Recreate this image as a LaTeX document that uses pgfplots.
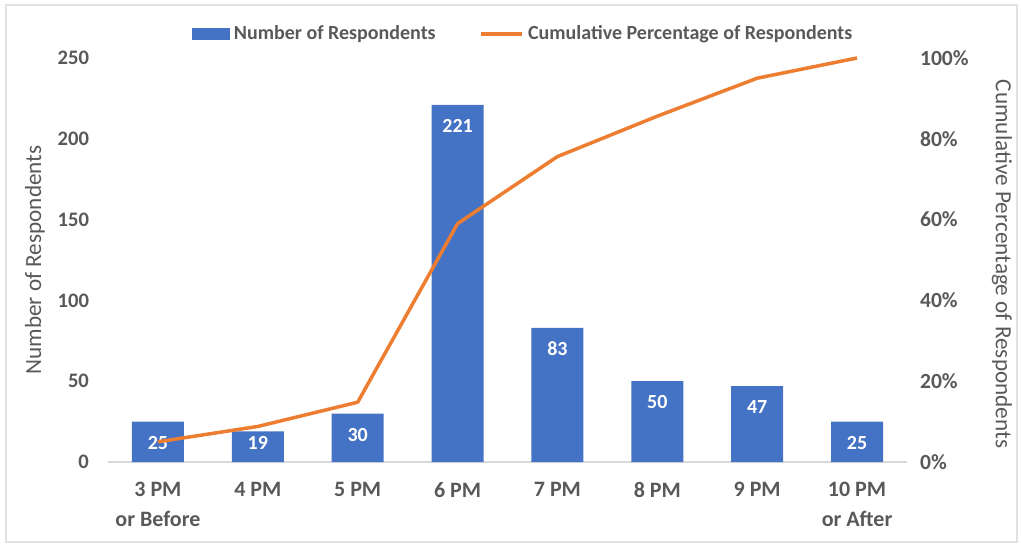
\documentclass[border=0pt]{standalone}
\usepackage{fontspec}
\setmainfont{Carlito}
\usepackage{pgfplots}
\pgfplotsset{compat=1.18}
\pgfplotsset{/pgf/number format/assume math mode=true}
\definecolor{barblue}{HTML}{4472C4}
\definecolor{lineorange}{HTML}{ED7D31}
\definecolor{txtgray}{HTML}{595959}
\definecolor{axgray}{HTML}{D9D9D9}
\begin{document}
\begin{tikzpicture}
\path[use as bounding box] (0pt,0pt) rectangle (510.5pt,273pt);
\draw[axgray!80, line width=0.6pt] (3pt,2pt) rectangle (508.5pt,270.5pt);
\begin{axis}[
  at={(54pt,42pt)}, anchor=south west,
  width=399.5pt, height=202pt, scale only axis,
  xmin=-0.5, xmax=7.5, ymin=0, ymax=250,
  ytick={0,50,100,150,200,250},
  xtick={0,...,7},
  xticklabels={{3 PM\\or Before},{4 PM},{5 PM},{6 PM},{7 PM},{8 PM},{9 PM},{10 PM\\or After}},
  axis x line*=bottom, axis y line*=left,
  y axis line style={draw=none},
  x axis line style={draw=axgray, line width=0.8pt},
  major tick length=0pt,
  yticklabel style={font=\fontsize{10.3}{12}\selectfont\bfseries, text=txtgray, xshift=-6pt},
  xticklabel style={font=\fontsize{11}{15}\selectfont\bfseries, text=txtgray, align=center, yshift=-6.5pt},
  ylabel={Number of Respondents},
  ylabel style={at={(axis description cs:-0.0914,0.5)}, anchor=center, rotate=0, font=\fontsize{11.6}{13}\selectfont, text=txtgray},
  clip=false,
]
\addplot[ybar, bar width=26pt, fill=barblue, draw=none,
  nodes near coords,
  visualization depends on={rawy \as \ry},
  every node near coord/.append style={anchor=center, text=white, font=\fontsize{10}{12}\selectfont\bfseries, yshift={-min(10.5,0.808*\ry-9.5)*1pt}},
] coordinates {(0,25) (1,19) (2,30) (3,221) (4,83) (5,50) (6,47) (7,25)};
\end{axis}
\begin{axis}[
  at={(54pt,42pt)}, anchor=south west,
  width=399.5pt, height=202pt, scale only axis,
  xmin=-0.5, xmax=7.5, ymin=0, ymax=100,
  ytick={0,20,40,60,80,100},
  yticklabel={\pgfmathprintnumber{\tick}\%},
  axis x line=none, axis y line*=right,
  y axis line style={draw=none},
  major tick length=0pt,
  yticklabel style={font=\fontsize{10.8}{12}\selectfont\bfseries, text=txtgray, xshift=3pt},
  ylabel={Cumulative Percentage of Respondents},
  ylabel style={at={(axis description cs:1.1189,0.49)}, anchor=center, rotate=180, font=\fontsize{11.6}{13}\selectfont, text=txtgray},
  legend columns=2,
  legend style={at={(0.521,1.059)}, anchor=center, draw=none, fill=none,
    font=\fontsize{10}{12}\selectfont\bfseries, text=txtgray,
    /tikz/every even column/.append style={column sep=20pt}},
  clip=false,
]
\addlegendimage{legend image code/.code={\fill[barblue] (0pt,-2.75pt) rectangle (18.5pt,2.75pt);}}
\addlegendentry{Number of Respondents}
\addplot[lineorange, line width=1.75pt, line join=round,
  legend image code/.code={\draw[lineorange, line width=1.75pt] (0pt,0pt) -- (20.5pt,0pt);}]
  coordinates {(0,5) (1,8.8) (2,14.8) (3,59) (4,75.6) (5,85.6) (6,95) (7,100)};
\addlegendentry{Cumulative Percentage of Respondents}
\end{axis}
\end{tikzpicture}
\end{document}
